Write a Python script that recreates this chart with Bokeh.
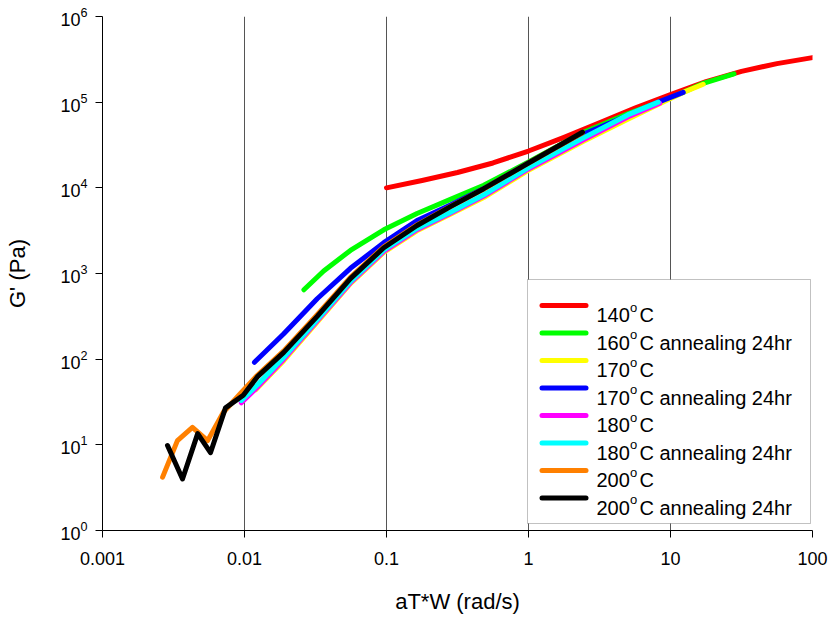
from bokeh.plotting import figure
from bokeh.models import (FixedTicker, CustomJSTickFormatter, LogTickFormatter,
                          BoxAnnotation, Label)
from bokeh.embed import file_html
from bokeh.resources import INLINE

# ---------------- data ----------------
x_ticks = [0.001, 0.01, 0.1, 1, 10, 100]
y_ticks = [1, 10, 100, 1e3, 1e4, 1e5, 1e6]

red_x = [0.1, 0.178, 0.316, 0.562, 1, 1.78, 3.16, 5.62, 10, 17.8, 31.6, 56.2, 100]
red_y = [1.0e4, 1.22e4, 1.51e4, 1.95e4, 2.69e4, 3.89e4, 5.75e4, 8.51e4, 1.23e5,
         1.74e5, 2.29e5, 2.82e5, 3.31e5]

green_x = [0.0262, 0.0361, 0.0557, 0.0957, 0.164, 0.282, 0.484, 1, 2.4, 5, 10, 17, 28]
green_y = [645, 1070, 1860, 3240, 5010, 7330, 1.07e4, 2.0e4, 4.4e4, 7.3e4, 1.12e5,
           1.66e5, 2.14e5]

yellow_x = [0.012, 0.0189, 0.0325, 0.0557, 0.0957, 0.164, 0.282, 0.484, 1, 2.4, 5,
            10, 12.3, 17]
yellow_y = [44, 96, 270, 760, 1760, 3150, 4900, 7700, 1.6e4, 3.45e4, 6.3e4, 1.1e5,
            1.3e5, 1.62e5]

blue_x = [0.01175, 0.0189, 0.0325, 0.0557, 0.0957, 0.164, 0.282, 0.484, 1, 2.4, 5,
          8.2, 12.3]
blue_y = [92, 198, 507, 1150, 2290, 4160, 6300, 9800, 1.95e4, 4.2e4, 7.0e4, 1.0e5,
          1.3e5]

magenta_x = [0.0095, 0.0123, 0.0189, 0.0325, 0.0557, 0.0957, 0.164, 0.282, 0.484, 1,
             2.4, 5, 8.4]
magenta_y = [31, 47, 100, 280, 780, 1810, 3250, 5050, 8000, 1.66e4, 3.6e4, 6.7e4, 9.7e4]

cyan_x = [0.0095, 0.0123, 0.0189, 0.0325, 0.0557, 0.0957, 0.164, 0.282, 0.484, 1,
          2.4, 5, 8.2]
cyan_y = [33, 50, 105, 290, 810, 1880, 3350, 5200, 8300, 1.72e4, 3.78e4, 7.1e4, 1.0e5]

orange_x = [0.00265, 0.00337, 0.0043, 0.0055, 0.0071, 0.0094, 0.012, 0.0189, 0.0325,
            0.0557, 0.0957, 0.164, 0.282, 0.484, 1, 2.4]
orange_y = [4.2, 11.2, 16, 11.2, 24, 40, 62, 125, 330, 900, 2050, 3700, 6050, 9700,
            1.95e4, 4.4e4]

black_x = [0.00287, 0.00366, 0.00468, 0.00576, 0.00735, 0.0098, 0.0123, 0.0189, 0.0325,
           0.0557, 0.0957, 0.164, 0.282, 0.484, 1, 2.4]
black_y = [9.8, 4.0, 13.5, 8.1, 27, 38, 62, 120, 316, 870, 2000, 3630, 6030, 9770,
           1.95e4, 4.45e4]

labels_num = ["140", "160", "170", "170", "180", "180", "200", "200"]
labels_rest = ["C", "C annealing 24hr", "C", "C annealing 24hr", "C",
               "C annealing 24hr", "C", "C annealing 24hr"]
colors = ["#ff0000", "#00ff00", "#ffff00", "#0000ff", "#ff00ff", "#00ffff",
          "#ff8000", "#000000"]

series = [(red_x, red_y), (green_x, green_y), (yellow_x, yellow_y), (blue_x, blue_y),
          (magenta_x, magenta_y), (cyan_x, cyan_y), (orange_x, orange_y),
          (black_x, black_y)]

FONT = "Liberation Sans"

p = figure(width=833, height=617, x_axis_type="log", y_axis_type="log",
           x_range=(0.001, 100), y_range=(1, 1e6),
           output_backend="svg", toolbar_location=None,
           min_border_left=102, min_border_right=21, min_border_top=16,
           min_border_bottom=87)
p.outline_line_color = None
p.background_fill_color = "white"
p.border_fill_color = "white"

for (xs, ys), c in zip(series, colors):
    p.line(xs, ys, line_color=c, line_width=5, line_cap="round", line_join="round")

# axes
p.xaxis.ticker = FixedTicker(ticks=x_ticks, minor_ticks=[])
p.yaxis.ticker = FixedTicker(ticks=y_ticks, minor_ticks=[])
p.xaxis.formatter = CustomJSTickFormatter(code="return tick.toString();")
p.yaxis.formatter = LogTickFormatter()
for ax in (p.xaxis, p.yaxis):
    ax.axis_line_color = "black"
    ax.axis_line_width = 1
    ax.major_tick_line_color = "black"
    ax.major_tick_in = 0
    ax.major_tick_out = 7
    ax.minor_tick_line_color = None
    ax.major_label_text_font = FONT
    ax.major_label_text_font_size = "18px"
    ax.major_label_text_color = "black"
    ax.axis_label_text_font = FONT
    ax.axis_label_text_font_size = "22px"
    ax.axis_label_text_font_style = "normal"
    ax.axis_label_text_color = "black"
p.xaxis.axis_label = "aT*W (rad/s)"
p.yaxis.axis_label = "G' (Pa)"
p.xaxis.major_label_standoff = 14
p.yaxis.major_label_standoff = 8
p.xaxis.axis_label_standoff = 21
p.yaxis.axis_label_standoff = 27

p.xgrid.ticker = FixedTicker(ticks=x_ticks, minor_ticks=[])
p.xgrid.grid_line_color = "#555555"
p.xgrid.grid_line_width = 1
p.ygrid.grid_line_color = None

# ---------------- legend (custom, canvas pixels) ----------------
LX0, LX1, LY0, LY1 = 527, 810, 279, 523
p.add_layout(BoxAnnotation(left=LX0, right=LX1, top=LY0, bottom=LY1,
                           left_units="canvas", right_units="canvas",
                           top_units="canvas", bottom_units="canvas",
                           fill_color="white", fill_alpha=1.0,
                           line_color="#333333", line_width=1, level="overlay"))
row0, dy = 305, 27.5
for i, c in enumerate(colors):
    yc = row0 + i * dy
    p.add_layout(BoxAnnotation(left=539, right=588, top=yc - 2.5, bottom=yc + 2.5,
                               left_units="canvas", right_units="canvas",
                               top_units="canvas", bottom_units="canvas",
                               fill_color=c, fill_alpha=1.0, line_color=None,
                               border_radius=3, level="overlay"))
    base = yc + 9.5
    p.add_layout(Label(x=596, y=base, x_units="canvas", y_units="canvas",
                       text=labels_num[i], text_font=FONT, text_font_size="20px",
                       text_baseline="alphabetic", text_color="black", level="overlay"))
    p.add_layout(Label(x=629.5, y=base - 7.6, x_units="canvas", y_units="canvas",
                       text="o", text_font=FONT, text_font_size="13px",
                       text_baseline="alphabetic", text_color="black", level="overlay"))
    p.add_layout(Label(x=639, y=base, x_units="canvas", y_units="canvas",
                       text=labels_rest[i], text_font=FONT, text_font_size="20px",
                       text_baseline="alphabetic", text_color="black", level="overlay"))

open("out.html", "w").write(file_html(p, INLINE))
